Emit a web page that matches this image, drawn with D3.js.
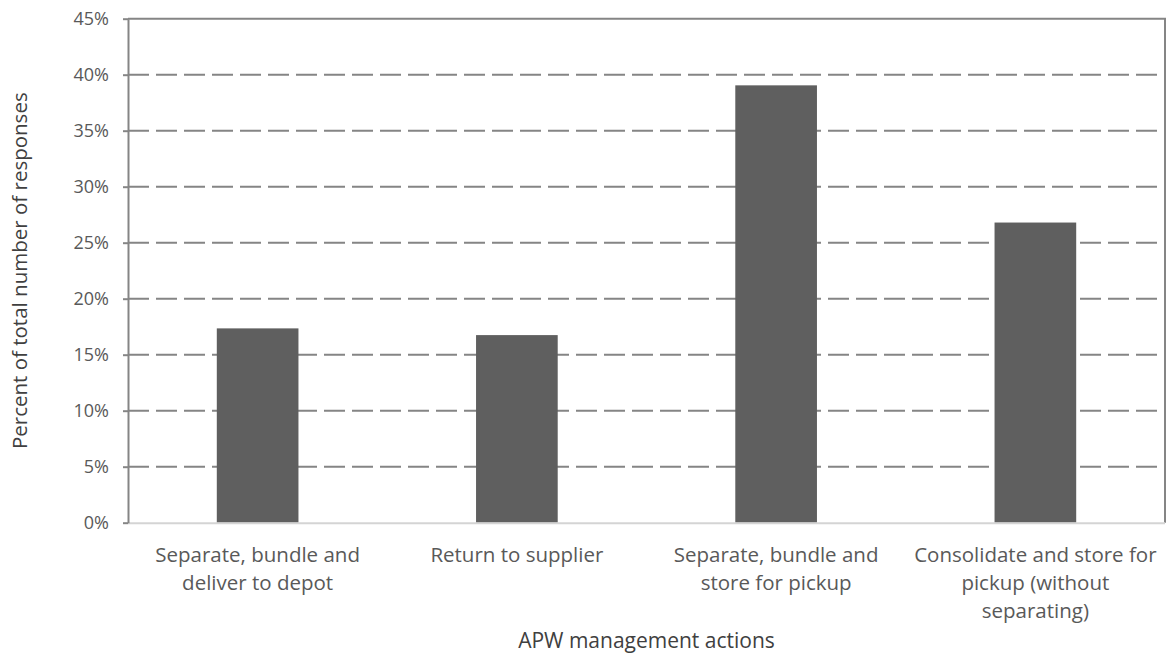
<!DOCTYPE html>
<html>
<head>
<meta charset="utf-8">
<script src="https://cdn.jsdelivr.net/npm/d3@7"></script>
<style>
  html, body { margin: 0; padding: 0; background: #fff; }
  svg { display: block; font-family: "Open Sans", sans-serif; }
</style>
</head>
<body>
<svg id="chart" width="1172" height="654"></svg>
<script>
const categories = [
  ["Separate, bundle and", "deliver to depot"],
  ["Return to supplier"],
  ["Separate, bundle and", "store for pickup"],
  ["Consolidate and store for", "pickup (without", "separating)"]
];
const values = [17.35, 16.75, 39.05, 26.8];
const yTicks = [0, 5, 10, 15, 20, 25, 30, 35, 40, 45];
const yTitle = "Percent of total number of responses";
const xTitle = "APW management actions";

const svg = d3.select("#chart");
const mLeft = 128, mRight = 1165, mTop = 18.7, mBottom = 522.7;

const x = d3.scaleBand().domain(d3.range(categories.length))
  .range([mLeft, mRight]).paddingInner(0.685).paddingOuter(0.3425);
const y = d3.scaleLinear().domain([0, 45]).range([mBottom, mTop]);

// gridlines
svg.append("g").selectAll("line").data(yTicks.filter(t => t > 0 && t < 45)).join("line")
  .attr("x1", mLeft).attr("x2", mRight)
  .attr("y1", d => y(d)).attr("y2", d => y(d))
  .attr("stroke", "#858585").attr("stroke-width", 2)
  .attr("stroke-dasharray", "21,7");

// top and right border
svg.append("path")
  .attr("d", `M${mLeft},${y(45)}H${mRight}V${mBottom}`)
  .attr("fill", "none").attr("stroke", "#858585").attr("stroke-width", 2);

// bars
svg.append("g").selectAll("rect").data(values).join("rect")
  .attr("x", (d, i) => x(i)).attr("width", x.bandwidth())
  .attr("y", d => y(d)).attr("height", d => mBottom - y(d))
  .attr("fill", "#5f5f5f");

// bottom axis line
svg.append("line").attr("x1", mLeft).attr("x2", mRight)
  .attr("y1", mBottom + 0.5).attr("y2", mBottom + 0.5)
  .attr("stroke", "#d4d4d4").attr("stroke-width", 2);

// y axis
const yAxis = d3.axisLeft(y).tickValues(yTicks).tickFormat(d => d + "%")
  .tickSize(5).tickSizeOuter(0).tickPadding(14);
const gy = svg.append("g").attr("transform", `translate(${mLeft},0)`).call(yAxis);
gy.select(".domain").attr("stroke", "#858585").attr("stroke-width", 2);
gy.selectAll(".tick line").attr("stroke", "#858585").attr("stroke-width", 2);
gy.selectAll(".tick text").attr("fill", "#595959").attr("font-size", 18)
  .attr("font-family", "'Open Sans', sans-serif");

// x labels
const xl = svg.append("g").selectAll("text").data(categories).join("text")
  .attr("text-anchor", "middle").attr("fill", "#595959").attr("font-size", 20.5)
  .attr("x", (d, i) => x(i) + x.bandwidth() / 2).attr("y", 562);
xl.selectAll("tspan").data(d => d).join("tspan")
  .attr("x", function () { return d3.select(this.parentNode).attr("x"); })
  .attr("dy", (d, i) => i === 0 ? 0 : 28)
  .text(d => d);

// axis titles
svg.append("text").attr("x", (mLeft + mRight) / 2).attr("y", 648)
  .attr("text-anchor", "middle").attr("fill", "#404040").attr("font-size", 21)
  .text(xTitle);
svg.append("text")
  .attr("transform", `translate(27,${(mTop + mBottom) / 2}) rotate(-90)`)
  .attr("text-anchor", "middle").attr("fill", "#404040").attr("font-size", 20.5)
  .text(yTitle);
</script>
</body>
</html>
